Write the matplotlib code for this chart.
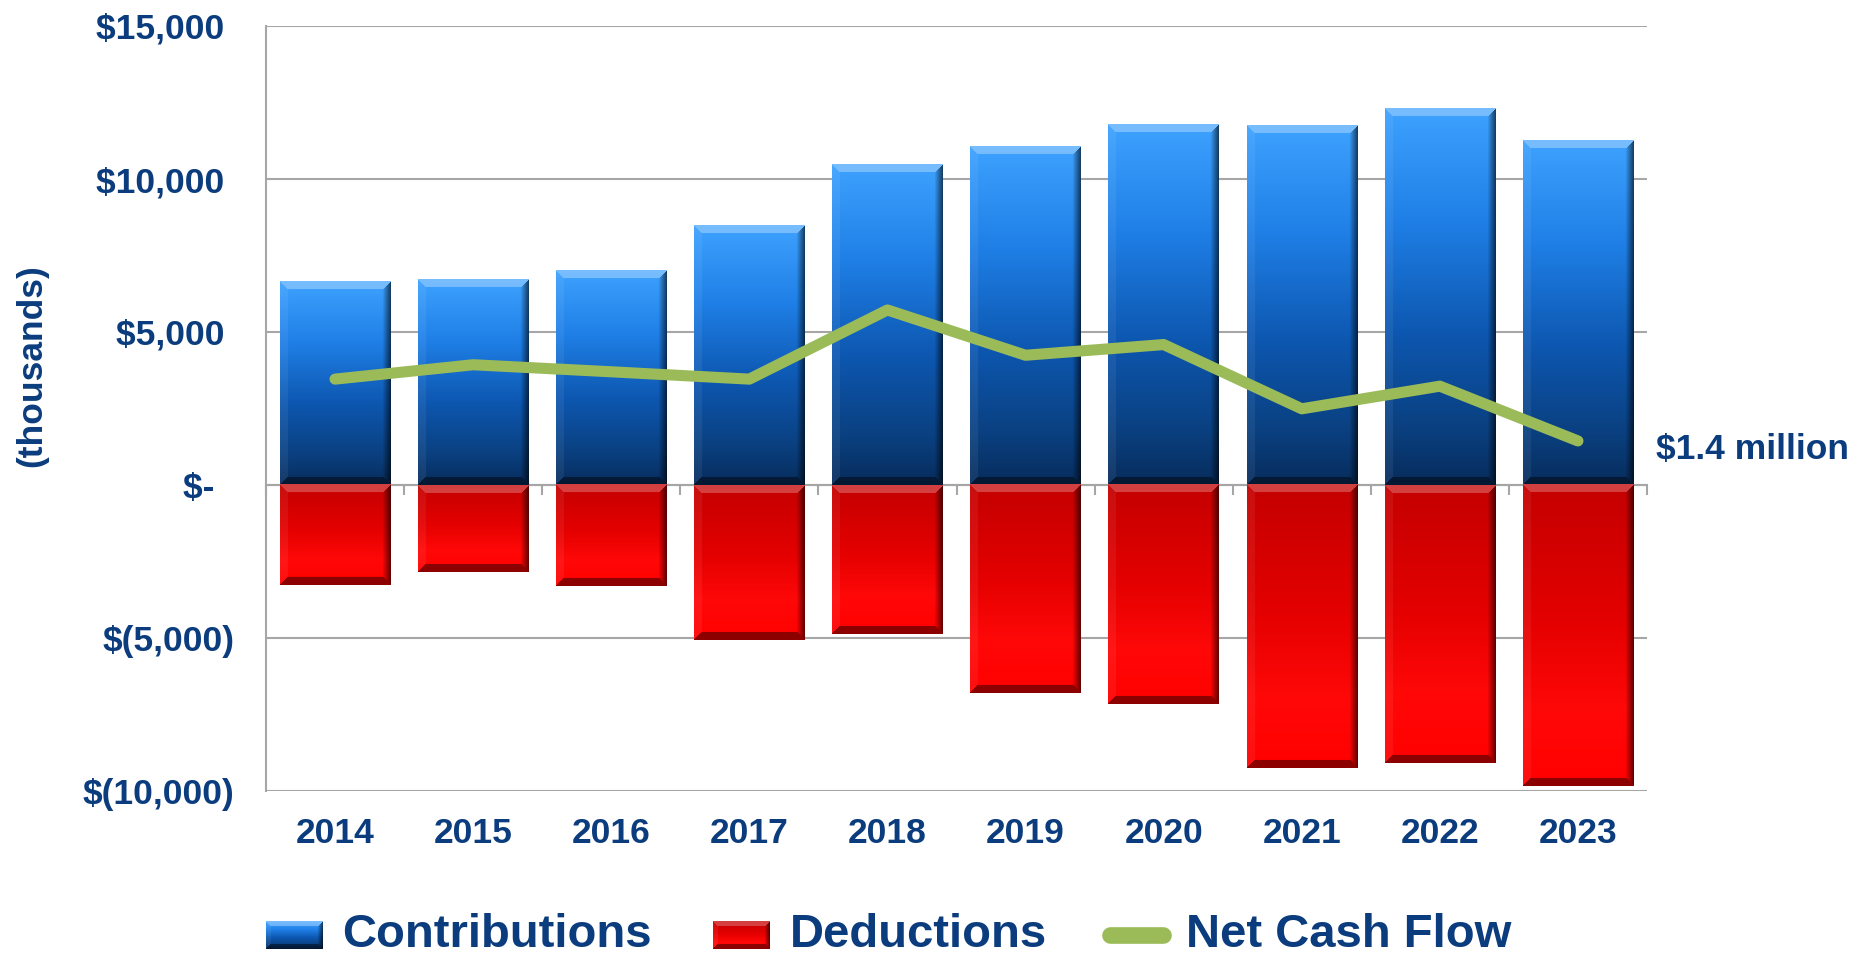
import numpy as np
import matplotlib.pyplot as plt
from matplotlib.colors import to_rgb
from matplotlib.lines import Line2D

years = ['2014', '2015', '2016', '2017', '2018', '2019', '2020', '2021', '2022', '2023']
contributions = [6650, 6730, 7000, 8480, 10470, 11050, 11790, 11750, 12300, 11250]
deductions = [-3270, -2840, -3310, -5060, -4860, -6810, -7160, -9260, -9070, -9840]
net_cash_flow = [3460, 3930, 3700, 3460, 5720, 4240, 4590, 2490, 3230, 1440]

ytick_values = [-10000, -5000, 0, 5000, 10000, 15000]
ytick_labels = ['$(10,000)', '$(5,000)', '$-  ', '$5,000 ', '$10,000 ', '$15,000 ']

NAVY = '#0b3c7d'
GRID = '#a6a6a6'
GREEN = '#9bbb59'
BLUE_STOPS = [(0, '#3ea2ff'), (0.3, '#1f7fe6'), (0.6, '#0d57b0'), (0.85, '#0a4080'), (1, '#072c5c')]
RED_STOPS = [(0, '#c40000'), (0.45, '#e40000'), (0.75, '#ff0808'), (1, '#ff0000')]
FONT = 'Liberation Sans'


def grad(stops, n):
    pos = [p for p, _ in stops]
    cols = np.array([to_rgb(c) for _, c in stops])
    t = np.linspace(0, 1, n)
    return np.stack([np.interp(t, pos, cols[:, i]) for i in range(3)], axis=1)


def bevel_img(h, w, stops, top_light=0.3, bot_dark=0.45, b=8):
    h = max(int(round(h)), 2)
    w = max(int(round(w)), 2)
    img = np.repeat(grad(stops, h)[:, None, :], w, axis=1)
    yy, xx = np.mgrid[0:h, 0:w]
    d = np.stack([yy, h - 1 - yy, xx, w - 1 - xx])
    side = d.argmin(0)
    dist = d.min(0)
    inb = dist < b
    f = 1 - dist / b
    m = inb & (side == 0)
    img[m] = img[m] + (1 - img[m]) * top_light
    m = inb & (side == 1)
    img[m] = img[m] * (1 - bot_dark)
    m = inb & (side == 2)
    img[m] = img[m] + (1 - img[m]) * 0.06
    m = inb & (side == 3)
    img[m] = img[m] * (1 - 0.6 * f[m])[:, None]
    return np.clip(img, 0, 1)


fig = plt.figure(figsize=(18.63, 9.56), dpi=100)
ax = fig.add_axes([266 / 1863, 1 - 791 / 956, 1381 / 1863, 765 / 956])

x = np.arange(len(years))
width = 0.8
ppx = 1381 / len(years)
ppy = 765 / 25000

for i in x:
    c = contributions[i]
    img = bevel_img(c * ppy, width * ppx, BLUE_STOPS)
    ax.imshow(img, extent=(i - width / 2, i + width / 2, 0, c), aspect='auto',
              origin='upper', zorder=3, interpolation='bilinear')
    d = deductions[i]
    img = bevel_img(-d * ppy, width * ppx, RED_STOPS, top_light=0.25, bot_dark=0.45)
    ax.imshow(img, extent=(i - width / 2, i + width / 2, d, 0), aspect='auto',
              origin='upper', zorder=3, interpolation='bilinear')

ax.plot(x, net_cash_flow, color=GREEN, lw=8, solid_capstyle='round',
        solid_joinstyle='round', zorder=4)
ax.annotate('$1.4 million', (x[-1], net_cash_flow[-1]), xytext=(56, -6),
            textcoords='offset points', va='center', ha='left',
            fontsize=25.5, fontweight='bold', color=NAVY, family=FONT,
            annotation_clip=False)

ax.set_xlim(-0.5, len(years) - 0.5)
ax.set_ylim(-10000, 15000)
ax.set_yticks(ytick_values, labels=ytick_labels)
ax.tick_params(axis='y', length=0, pad=23, labelsize=25.5, labelcolor=NAVY)
for t in ax.get_yticklabels():
    t.set_fontweight('bold')
    t.set_family(FONT)
ax.yaxis.grid(True, color=GRID, lw=1.5)
ax.set_axisbelow(True)

for s in ['top', 'right']:
    ax.spines[s].set_visible(False)
ax.spines['left'].set_color(GRID)
ax.spines['left'].set_linewidth(1.5)
ax.spines['bottom'].set_position(('data', 0))
ax.spines['bottom'].set_color(GRID)
ax.spines['bottom'].set_linewidth(1.5)
ax.set_xticks(np.arange(-0.5, len(years), 1), labels=[])
ax.tick_params(axis='x', direction='out', length=7, width=1.5, color=GRID)

sec = ax.secondary_xaxis(0.0)
sec.set_xticks(x, labels=years)
sec.spines['bottom'].set_visible(False)
sec.tick_params(length=0, pad=19, labelsize=25.5, labelcolor=NAVY)
for t in sec.get_xticklabels():
    t.set_fontweight('bold')
    t.set_family(FONT)

fig.text(0.017, 0.618, '(thousands)', rotation=90, ha='center', va='center',
         fontsize=25.5, fontweight='bold', color=NAVY, family=FONT)

# legend
ly = 935
sw = bevel_img(28, 57, BLUE_STOPS, b=5)
fig.figimage(sw, xo=266, yo=956 - ly - 14, origin='upper', zorder=5)
fig.text(342 / 1863, 1 - ly / 956, 'Contributions', ha='left', va='center',
         fontsize=34, fontweight='bold', color=NAVY, family=FONT)
sw = bevel_img(28, 57, RED_STOPS, top_light=0.25, b=5)
fig.figimage(sw, xo=713, yo=956 - ly - 14, origin='upper', zorder=5)
fig.text(790 / 1863, 1 - ly / 956, 'Deductions', ha='left', va='center',
         fontsize=34, fontweight='bold', color=NAVY, family=FONT)
fig.add_artist(Line2D([1110 / 1863, 1163 / 1863], [1 - ly / 956] * 2,
                      transform=fig.transFigure, color=GREEN, lw=12,
                      solid_capstyle='round'))
fig.text(1186 / 1863, 1 - ly / 956, 'Net Cash Flow', ha='left', va='center',
         fontsize=34, fontweight='bold', color=NAVY, family=FONT)

fig.savefig('out.png', dpi=100)
